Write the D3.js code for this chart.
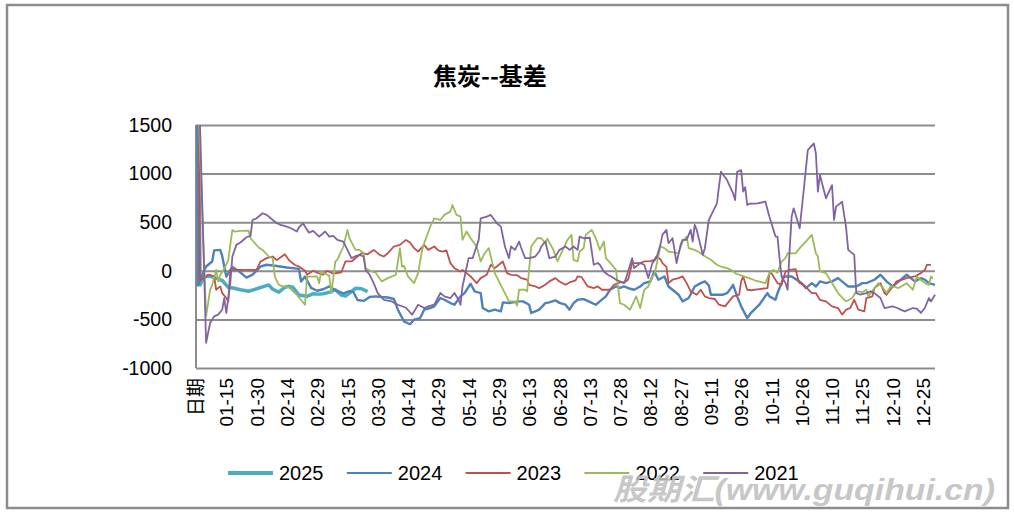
<!DOCTYPE html>
<html>
<head>
<meta charset="utf-8">
<script src="https://cdn.jsdelivr.net/npm/d3@7"></script>
<style>
  html, body { margin: 0; padding: 0; background: #fff; }
  svg { display: block; }
</style>
</head>
<body>
<svg id="chart" width="1014" height="517"></svg>
<script>
// ---------- DATA ----------
const title = "焦炭--基差";
const seriesNames = ["2025", "2024", "2023", "2022", "2021"];
const seriesColors = ["#4BACC6", "#4F81BD", "#C0504D", "#9BBB59", "#8064A2"];
const seriesWidths = [3.5, 2.4, 1.8, 1.8, 1.8];
const yTicks = [1500, 1000, 500, 0, -500, -1000];
const xTickLabels = ["日期","01-15","01-30","02-14","02-29","03-15","03-30","04-14","04-29","05-14","05-29","06-13","06-28","07-13","07-28","08-12","08-27","09-11","09-26","10-11","10-26","11-10","11-25","12-10","12-25"];

// categories: header cell + every day of a leap year (MM-DD)
const categories = ["日期"].concat(
  d3.timeDay.range(new Date(2024, 0, 1), new Date(2025, 0, 1)).map(d3.timeFormat("%m-%d"))
);

// [category index, value]
const s2025 = [[0,6000],[2,-145],[4,-60],[7,-55],[10,-75],[13,-100],[16,-170],[19,-180],[22,-195],[26,-210],[30,-185],[33,-165],[36,-145],[38,-190],[41,-220],[44,-170],[46,-160],[48,-170],[51,-250],[55,-262],[58,-236],[61,-240],[63,-236],[66,-222],[69,-195],[72,-250],[74,-260],[76,-229],[79,-180],[82,-185],[85,-215]];

const s2024 = [[0,6000],[1,-150],[3,-50],[5,44],[8,96],[9,210],[12,215],[13,150],[15,-60],[18,40],[21,0],[25,-70],[28,-40],[32,44],[35,62],[40,50],[45,34],[51,20],[52,-110],[54,-60],[57,-175],[60,-205],[63,-190],[66,-160],[69,-200],[73,-233],[76,-210],[78,-220],[80,-300],[83,-310],[86,-270],[89,-263],[92,-270],[95,-275],[98,-290],[100,-400],[103,-520],[106,-550],[108,-503],[111,-486],[113,-400],[116,-383],[118,-366],[121,-280],[123,-298],[126,-332],[128,-349],[131,-263],[133,-229],[136,-133],[138,-212],[141,-229],[142,-383],[145,-417],[148,-400],[151,-417],[152,-325],[155,-332],[157,-325],[160,-315],[162,-315],[165,-349],[166,-434],[168,-417],[170,-400],[173,-332],[175,-325],[178,-304],[180,-330],[183,-349],[185,-400],[187,-332],[189,-298],[192,-291],[195,-320],[198,-349],[200,-315],[203,-263],[205,-195],[208,-161],[210,-175],[212,-161],[215,-185],[217,-195],[220,-161],[222,-127],[225,-110],[227,-7],[229,-92],[232,-58],[234,-161],[236,-195],[239,-246],[241,-315],[244,-280],[247,-161],[250,-127],[252,-109],[254,-150],[255,-246],[258,-246],[261,-246],[263,-230],[265,-178],[266,-144],[268,-263],[270,-366],[273,-485],[275,-430],[279,-349],[283,-229],[284,-263],[287,-298],[288,-229],[290,-127],[291,-58],[295,-58],[298,-100],[300,-127],[302,-178],[305,-127],[307,-161],[309,-109],[312,-127],[315,-109],[318,-75],[321,-127],[323,-161],[327,-161],[330,-127],[332,-127],[336,-92],[339,-41],[342,-109],[345,-161],[347,-127],[352,-41],[356,-109],[359,-75],[361,-92],[363,-127],[366,-144]];

const s2023 = [[0,6000],[2,-100],[4,-75],[6,-40],[9,-55],[10,-195],[12,-160],[13,-230],[15,-280],[16,-315],[17,10],[20,10],[25,10],[30,10],[32,96],[35,130],[38,147],[40,110],[42,140],[44,170],[46,110],[49,60],[51,44],[54,0],[55,-40],[58,0],[60,-20],[63,-40],[65,0],[68,-30],[72,-15],[74,96],[77,96],[80,147],[82,181],[85,170],[88,215],[91,164],[93,147],[95,181],[98,250],[101,267],[104,318],[106,291],[108,233],[110,198],[113,267],[115,215],[118,250],[120,210],[122,198],[124,210],[126,79],[128,27],[131,-7],[132,10],[134,-24],[136,-58],[139,-127],[141,-75],[144,-41],[146,62],[148,27],[150,62],[152,96],[154,-24],[156,-41],[159,-45],[161,-75],[164,-92],[165,-144],[168,-161],[170,-178],[173,-144],[175,-109],[178,-75],[180,-110],[183,-144],[185,-120],[188,-99],[189,-58],[191,-65],[194,-161],[197,-178],[199,-160],[201,-195],[205,-195],[207,-144],[210,-120],[212,-120],[214,-92],[216,79],[220,79],[222,96],[225,100],[227,113],[228,147],[230,120],[231,79],[233,40],[234,-127],[236,-92],[239,-75],[241,-58],[243,-127],[245,-212],[248,-246],[250,-195],[252,-263],[254,-280],[257,-290],[259,-349],[262,-366],[264,-315],[266,-263],[269,-246],[270,-109],[271,-58],[273,-195],[275,-200],[279,-188],[283,-178],[284,-24],[285,-24],[288,-127],[290,-144],[292,-7],[294,10],[297,17],[298,-75],[299,-127],[301,-144],[305,-229],[307,-229],[309,-298],[312,-315],[315,-366],[318,-383],[320,-451],[322,-400],[324,-383],[326,-298],[328,-400],[331,-417],[332,-280],[335,-263],[336,-178],[339,-127],[341,-229],[342,-246],[347,-109],[352,-75],[356,-58],[359,-24],[361,10],[362,62],[364,60]];

const s2022 = [[0,6000],[1,1800],[5,-469],[7,-195],[8,-150],[10,10],[11,-109],[12,-41],[14,20],[16,113],[18,421],[19,404],[22,410],[26,414],[27,335],[31,240],[33,215],[36,147],[38,130],[39,-58],[41,-144],[43,-161],[46,-170],[50,-246],[52,-298],[54,-349],[55,-58],[57,-60],[60,-58],[61,-127],[62,-7],[64,-30],[66,-50],[67,-229],[68,-75],[69,96],[70,113],[73,250],[75,421],[76,335],[79,215],[81,215],[83,181],[84,27],[87,-7],[89,-20],[92,-109],[95,-75],[99,-41],[101,233],[102,44],[103,50],[105,-58],[108,-127],[110,-24],[112,215],[113,284],[116,455],[118,540],[121,523],[123,575],[126,609],[127,677],[129,575],[131,557],[132,318],[134,404],[136,335],[139,250],[141,96],[143,181],[145,233],[148,-24],[150,-109],[153,-229],[155,-315],[158,-315],[159,-359],[160,-195],[163,-195],[164,-212],[166,250],[169,335],[171,335],[173,284],[174,330],[177,215],[179,96],[182,230],[184,318],[186,369],[187,113],[189,96],[190,198],[192,233],[193,369],[196,421],[198,335],[200,215],[202,301],[203,130],[206,62],[208,10],[210,-332],[212,-349],[215,-400],[218,-263],[220,-383],[222,-195],[224,-161],[226,-58],[227,-40],[229,147],[230,250],[232,233],[234,198],[239,181],[241,301],[243,352],[244,233],[247,215],[250,181],[252,150],[255,113],[258,62],[260,44],[263,27],[265,10],[267,-24],[269,-41],[274,-75],[277,-100],[282,-127],[284,-24],[286,10],[288,-20],[290,96],[292,130],[293,181],[297,180],[299,233],[302,301],[305,369],[307,181],[308,147],[309,-7],[312,-24],[314,-92],[318,-229],[321,-298],[322,-315],[325,-280],[327,-212],[330,-220],[332,-195],[333,-263],[336,-178],[338,-127],[340,-170],[342,-229],[344,-161],[346,-165],[348,-178],[352,-127],[355,-195],[357,-58],[359,-92],[361,-127],[363,-144],[364,-58],[365,-80]];

const s2021 = [[0,6000],[2,1500],[5,-740],[7,-537],[9,-469],[11,-451],[13,-400],[14,-280],[15,-434],[17,-127],[18,147],[20,267],[22,291],[25,345],[27,360],[28,523],[30,540],[33,592],[35,575],[37,540],[40,489],[42,472],[45,455],[47,438],[50,404],[51,448],[53,489],[55,421],[56,393],[58,410],[61,352],[64,404],[66,352],[68,360],[70,318],[73,301],[75,215],[77,130],[79,150],[81,164],[83,147],[84,10],[86,-41],[88,-127],[90,-229],[93,-298],[97,-315],[100,-349],[104,-380],[107,-451],[108,-420],[110,-349],[113,-383],[115,-366],[118,-349],[121,-229],[123,-263],[126,-280],[128,-229],[130,-298],[131,-349],[132,-161],[135,130],[137,130],[140,318],[141,540],[144,557],[146,575],[149,489],[151,455],[153,250],[155,130],[156,250],[158,215],[160,301],[161,240],[163,130],[165,130],[168,147],[170,198],[171,250],[173,301],[175,130],[178,147],[180,215],[183,250],[185,215],[187,250],[189,215],[190,352],[192,335],[195,340],[197,62],[199,80],[200,62],[202,-7],[204,-41],[207,-75],[208,-92],[212,-127],[213,-75],[216,130],[217,27],[220,79],[222,62],[224,-75],[226,79],[228,130],[230,267],[231,369],[233,421],[234,284],[236,335],[237,215],[238,79],[240,267],[241,318],[243,318],[245,421],[246,301],[247,472],[248,420],[250,250],[251,164],[252,230],[254,523],[256,609],[258,694],[259,865],[260,1019],[263,934],[266,797],[267,728],[268,1019],[270,1036],[271,814],[272,860],[273,677],[274,690],[278,694],[282,711],[284,557],[287,352],[288,352],[289,130],[290,-58],[292,-127],[293,-195],[294,215],[295,557],[296,643],[299,438],[301,831],[303,1241],[306,1310],[307,1207],[308,814],[309,985],[312,746],[315,882],[316,523],[317,660],[320,711],[322,438],[323,215],[326,164],[327,-229],[329,-246],[332,-230],[334,-212],[336,-230],[339,-280],[341,-383],[345,-366],[347,-380],[349,-400],[351,-417],[355,-383],[357,-390],[359,-434],[361,-380],[363,-280],[364,-315],[366,-246]];

const seriesData = [s2025, s2024, s2023, s2022, s2021];

// ---------- LAYOUT ----------
const svg = d3.select("#chart");
const plot = { left: 196, right: 935, top: 125, bottom: 368 };

const x = d3.scalePoint().domain(categories).range([plot.left, plot.right]);
const y = d3.scaleLinear().domain([-1000, 1500]).range([plot.bottom, plot.top]);

// outer frame
svg.append("rect")
  .attr("x", 7).attr("y", 5).attr("width", 1001).attr("height", 503)
  .attr("fill", "#fff").attr("stroke", "#8c8c8c").attr("stroke-width", 2.5);

// title
svg.append("text")
  .attr("x", 490).attr("y", 85)
  .attr("text-anchor", "middle")
  .attr("font-family", "'Noto Sans CJK SC', 'Liberation Sans', sans-serif")
  .attr("font-weight", "bold")
  .attr("font-size", 24)
  .attr("fill", "#000")
  .text(title);

// gridlines via y axis
const yAxis = d3.axisLeft(y).tickValues(yTicks).tickFormat(d => String(d))
  .tickSize(-(plot.right - plot.left)).tickPadding(24);
const gy = svg.append("g").attr("transform", `translate(${plot.left},0)`).call(yAxis);
gy.select(".domain").remove();
gy.selectAll(".tick line").attr("stroke", "#8c8c8c").attr("stroke-width", 2);
gy.selectAll(".tick text")
  .attr("font-family", "'Liberation Sans', Arial, sans-serif")
  .attr("font-size", 19.5)
  .attr("fill", "#000");

// vertical axis line
svg.append("line")
  .attr("x1", plot.left).attr("x2", plot.left)
  .attr("y1", plot.top).attr("y2", plot.bottom)
  .attr("stroke", "#8c8c8c").attr("stroke-width", 2);

// x axis labels
const xAxis = d3.axisBottom(x).tickValues(xTickLabels).tickSize(0).tickPadding(0);
const gx = svg.append("g").attr("transform", `translate(0,${plot.bottom})`).call(xAxis);
gx.select(".domain").remove();
gx.selectAll(".tick text")
  .attr("font-family", "'Liberation Sans', 'Noto Sans CJK SC', sans-serif")
  .attr("font-size", 19)
  .attr("fill", "#000")
  .attr("text-anchor", "end")
  .attr("transform", "rotate(-90)")
  .attr("x", -10).attr("y", 0).attr("dy", "0.35em");

// clip
svg.append("clipPath").attr("id", "clip")
  .append("rect")
  .attr("x", plot.left - 2).attr("y", plot.top)
  .attr("width", plot.right - plot.left + 6).attr("height", plot.bottom - plot.top + 40);

const line = d3.line()
  .x(d => x(categories[d[0]]))
  .y(d => y(d[1]))
  .curve(d3.curveLinear);

const gl = svg.append("g").attr("clip-path", "url(#clip)");
seriesData.forEach((s, k) => {
  gl.append("path")
    .datum(s)
    .attr("fill", "none")
    .attr("stroke", seriesColors[k])
    .attr("stroke-width", seriesWidths[k])
    .attr("stroke-linejoin", "round")
    .attr("d", line);
});

// legend
const legend = svg.append("g");
seriesNames.forEach((name, k) => {
  const lx = 228 + k * 118.8;
  legend.append("line")
    .attr("x1", lx).attr("x2", lx + 45)
    .attr("y1", 473).attr("y2", 473)
    .attr("stroke", seriesColors[k])
    .attr("stroke-width", k === 0 ? 4 : 2);
  legend.append("text")
    .attr("x", lx + 51).attr("y", 480)
    .attr("font-family", "'Liberation Sans', Arial, sans-serif")
    .attr("font-size", 20)
    .attr("fill", "#000")
    .text(name);
});

// watermark (overlaps the legend in the reference too)
svg.append("text")
  .attr("x", 613).attr("y", 500)
  .attr("font-family", "'Liberation Sans', 'Noto Sans CJK SC', sans-serif")
  .attr("font-weight", "bold")
  .attr("font-style", "italic")
  .attr("font-size", 30)
  .attr("fill", "#bfbfbf")
  .attr("fill-opacity", 0.9)
  .attr("textLength", 382)
  .attr("lengthAdjust", "spacingAndGlyphs")
  .text("股期汇(www.guqihui.cn)");
</script>
</body>
</html>
